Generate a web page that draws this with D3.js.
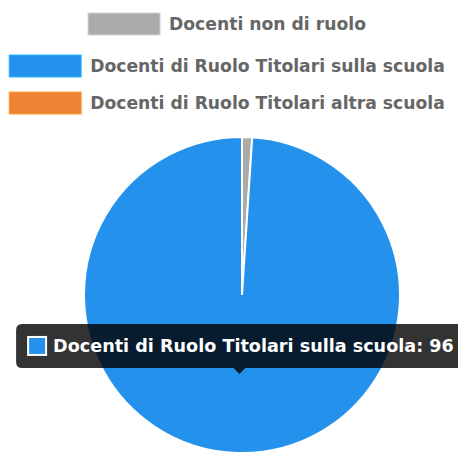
<!DOCTYPE html>
<html>
<head>
<meta charset="utf-8">
<script src="https://cdn.jsdelivr.net/npm/d3@7"></script>
<style>
  html, body { margin: 0; padding: 0; background: #fff; }
  svg { display: block; }
</style>
</head>
<body>
<script>
const categories = [
  "Docenti non di ruolo",
  "Docenti di Ruolo Titolari sulla scuola",
  "Docenti di Ruolo Titolari altra scuola"
];
const values = [1, 96, 0];
const colors = ["#ababab", "#2492ec", "#f08233"];
const activeIndex = 1;

const W = 458, H = 454;
const cx = 242, cy = 295, R = 158;

const svg = d3.select("body").append("svg").attr("width", W).attr("height", H);

const FONT = "'DejaVu Sans', Verdana, sans-serif";
const FS = "17.2px";

// Legend
const rowY = [24, 66, 103];
const boxW = 72, boxH = 22, gap = 9;
const lg = svg.append("g");
categories.forEach((c, i) => {
  const g = lg.append("g");
  const t = g.append("text")
    .attr("y", rowY[i])
    .attr("dy", "0.36em")
    .style("font-family", FONT)
    .style("font-size", FS)
    .style("font-weight", "bold")
    .attr("fill", "#666")
    .text(c);
  const tw = t.node().getComputedTextLength();
  const total = boxW + gap + tw;
  const x0 = (W - total) / 2 - 2;
  g.insert("rect", "text")
    .attr("x", x0).attr("y", rowY[i] - boxH / 2)
    .attr("width", boxW).attr("height", boxH)
    .attr("fill", colors[i])
    .attr("stroke", d3.color(colors[i]).brighter(0.6))
    .attr("stroke-width", 1);
  t.attr("x", x0 + boxW + gap);
});

// Pie
const pie = d3.pie().sort(null).value(d => d)(values);
const arc = d3.arc().innerRadius(0).outerRadius(R);
const pg = svg.append("g").attr("transform", `translate(${cx},${cy})`);
pg.selectAll("path").data(pie).join("path")
  .attr("d", arc)
  .attr("fill", (d, i) => colors[i])
  .attr("stroke", d => d.value > 0 ? "#fff" : "none")
  .attr("stroke-width", 2);

// Tooltip
const cen = arc.centroid(pie[activeIndex]);
const px = cx + cen[0], py = cy + cen[1];
const tipText = categories[activeIndex] + ": " + values[activeIndex];
const tg = svg.append("g");
const tt = tg.append("text")
  .style("font-family", FONT)
  .style("font-size", "17.6px")
  .style("font-weight", "bold")
  .attr("fill", "#fff")
  .text(tipText);
const ttw = tt.node().getComputedTextLength();
const padL = 12, padR = 9, sq = 18, sqGap = 7;
const boxWidth = padL + sq + sqGap + ttw + padR;
const boxHeight = 44, caret = 6;
const bx = Math.max(2, px - boxWidth / 2), by = py - caret - boxHeight;
tg.insert("path", "text")
  .attr("d", `M${bx + 6},${by} H${bx + boxWidth - 6} Q${bx + boxWidth},${by} ${bx + boxWidth},${by + 6}
    V${by + boxHeight - 6} Q${bx + boxWidth},${by + boxHeight} ${bx + boxWidth - 6},${by + boxHeight}
    H${px + caret} L${px},${py} L${px - caret},${by + boxHeight}
    H${bx + 6} Q${bx},${by + boxHeight} ${bx},${by + boxHeight - 6}
    V${by + 6} Q${bx},${by} ${bx + 6},${by} Z`)
  .attr("fill", "rgba(0,0,0,0.8)");
tg.insert("rect", "text")
  .attr("x", bx + padL).attr("y", by + (boxHeight - sq) / 2)
  .attr("width", sq).attr("height", sq)
  .attr("fill", colors[activeIndex])
  .attr("stroke", "#fff").attr("stroke-width", 2);
tt.attr("x", bx + padL + sq + sqGap).attr("y", by + boxHeight / 2).attr("dy", "0.36em");
</script>
</body>
</html>
